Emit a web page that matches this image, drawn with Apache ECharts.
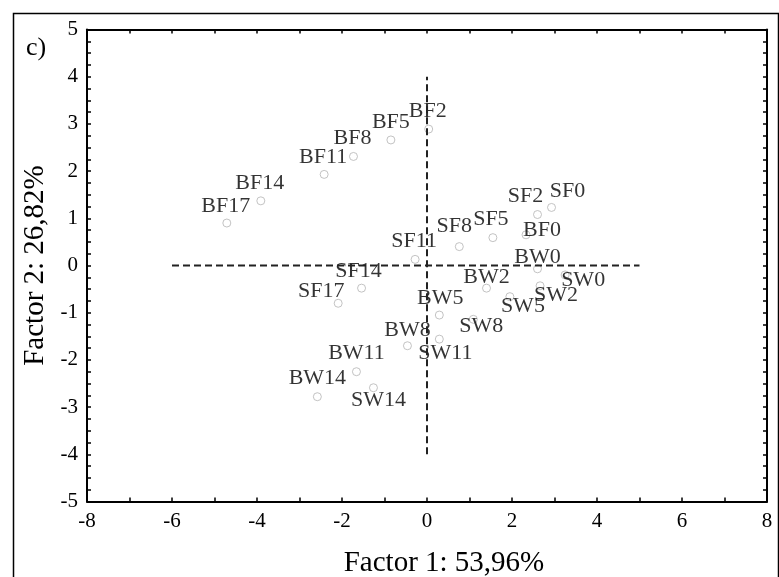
<!DOCTYPE html>
<html>
<head>
<meta charset="utf-8">
<script src="https://cdn.jsdelivr.net/npm/echarts@6/dist/echarts.min.js"></script>
<style>
  html, body { margin: 0; padding: 0; background: #fff; }
  #chart { width: 779px; height: 577px; }
</style>
</head>
<body>
<div id="chart"></div>
<script>
// point names and factor scores
var names = ['BF0', 'BF2', 'BF5', 'BF8', 'BF11', 'BF14', 'BF17',
             'SF0', 'SF2', 'SF5', 'SF8', 'SF11', 'SF14', 'SF17',
             'BW0', 'BW2', 'BW5', 'BW8', 'BW11', 'BW14',
             'SW0', 'SW2', 'SW5', 'SW8', 'SW11', 'SW14'];
var factor1 = [2.33, 0.04, -0.85, -1.73, -2.42, -3.91, -4.71,
               2.93, 2.60, 1.55, 0.76, -0.28, -1.54, -2.09,
               2.60, 1.40, 0.29, -0.46, -1.66, -2.58,
               3.25, 2.66, 1.95, 1.09, 0.29, -1.26];
var factor2 = [0.65, 2.89, 2.66, 2.31, 1.93, 1.37, 0.90,
               1.23, 1.08, 0.59, 0.40, 0.13, -0.48, -0.80,
               -0.07, -0.48, -1.05, -1.70, -2.25, -2.78,
               -0.20, -0.43, -0.66, -1.14, -1.56, -2.59];

// dashed reference axes
var hLineX = [-6, 5];
var vLineY = [-4, 4];

var xTicks = { min: -8, max: 8, interval: 2 };
var yTicks = { min: -5, max: 5, interval: 1 };

// where each label sits relative to its point (pixels)
var labelOffsets = {
    BF0: [16, -5], BF2: [-1, -18], BF5: [0, -18], BF8: [-1, -18], BF11: [-1, -17], BF14: [-1, -18], BF17: [-1, -17],
    SF0: [16, -16], SF2: [-12, -18], SF5: [-2, -18], SF8: [-5, -20], SF11: [-1, -18], SF14: [-3, -17], SF17: [-17, -12],
    BW0: [0, -12], BW2: [0, -11], BW5: [1, -17], BW8: [0, -16], BW11: [0, -18], BW14: [0, -18],
    SW0: [18, 5], SW2: [16, 9], SW5: [13, 10], SW8: [8, 7], SW11: [6, 14], SW14: [5, 12]
};

var chart = echarts.init(document.getElementById('chart'));
var serif = 'Liberation Serif';

var points = names.map(function (n, i) {
    return {
        name: n,
        value: [factor1[i], factor2[i]],
        label: { offset: labelOffsets[n] || [0, -17] }
    };
});

function xAxisDef(pos, labels) {
    return {
        type: 'value', position: pos,
        min: xTicks.min, max: xTicks.max, interval: xTicks.interval,
        name: labels ? 'Factor 1: 53,96%' : '',
        nameLocation: 'middle', nameGap: 47,
        nameTextStyle: { fontFamily: serif, fontSize: 29, color: '#000', padding: [0, 0, 0, 34] },
        axisLine: { onZero: false, lineStyle: { color: '#000', width: 2 } },
        axisTick: { inside: true, length: 4, lineStyle: { color: '#000', width: 1.5 } },
        minorTick: { show: true, splitNumber: 2, length: 4, lineStyle: { color: '#000', width: 1.5 } },
        axisLabel: { show: labels, margin: 9, fontFamily: serif, fontSize: 21, color: '#000' },
        splitLine: { show: false }
    };
}

function yAxisDef(pos, labels) {
    return {
        type: 'value', position: pos,
        min: yTicks.min, max: yTicks.max, interval: yTicks.interval,
        name: labels ? 'Factor 2: 26,82%' : '',
        nameLocation: 'middle', nameGap: 24, nameRotate: 90,
        nameTextStyle: { fontFamily: serif, fontSize: 29, color: '#000' },
        axisLine: { onZero: false, lineStyle: { color: '#000', width: 2 } },
        axisTick: { inside: true, length: 4, lineStyle: { color: '#000', width: 1.5 } },
        minorTick: { show: true, splitNumber: 4, length: 4, lineStyle: { color: '#000', width: 1.5 } },
        axisLabel: { show: labels, margin: 9, fontFamily: serif, fontSize: 21, color: '#000' },
        splitLine: { show: false }
    };
}

var option = {
    animation: false,
    backgroundColor: '#fff',
    grid: { left: 87, right: 12, top: 29.5, bottom: 75.5, outerBoundsMode: 'none' },
    xAxis: [xAxisDef('bottom', true), xAxisDef('top', false)],
    yAxis: [yAxisDef('left', true), yAxisDef('right', false)],
    graphic: [
        {
            type: 'rect', left: 11, top: 11, silent: true,
            shape: { width: 765, height: 620 },
            style: { fill: 'none', stroke: '#000', lineWidth: 1.5 }
        },
        {
            type: 'text', left: 26, top: 35,
            style: { text: 'c)', font: '26px "Liberation Serif"', fill: '#000' }
        }
    ],
    series: [
        {
            type: 'line', xAxisIndex: 0, yAxisIndex: 0,
            data: [[hLineX[0], 0], [hLineX[1], 0]],
            symbol: 'none', silent: true,
            lineStyle: { color: '#222', width: 2, type: [7, 4] }
        },
        {
            type: 'line', xAxisIndex: 0, yAxisIndex: 0,
            data: [[0, vLineY[0]], [0, vLineY[1]]],
            symbol: 'none', silent: true,
            lineStyle: { color: '#222', width: 2, type: [7, 4] }
        },
        {
            type: 'scatter', xAxisIndex: 0, yAxisIndex: 0,
            data: points,
            symbol: 'circle', symbolSize: 8,
            itemStyle: { color: 'rgba(0,0,0,0)', borderColor: '#b4b4b4', borderWidth: 1 },
            label: {
                show: true, position: 'inside',
                formatter: '{b}',
                fontFamily: serif, fontSize: 22, color: '#000'
            }
        }
    ]
};

chart.setOption(option);
</script>
</body>
</html>
